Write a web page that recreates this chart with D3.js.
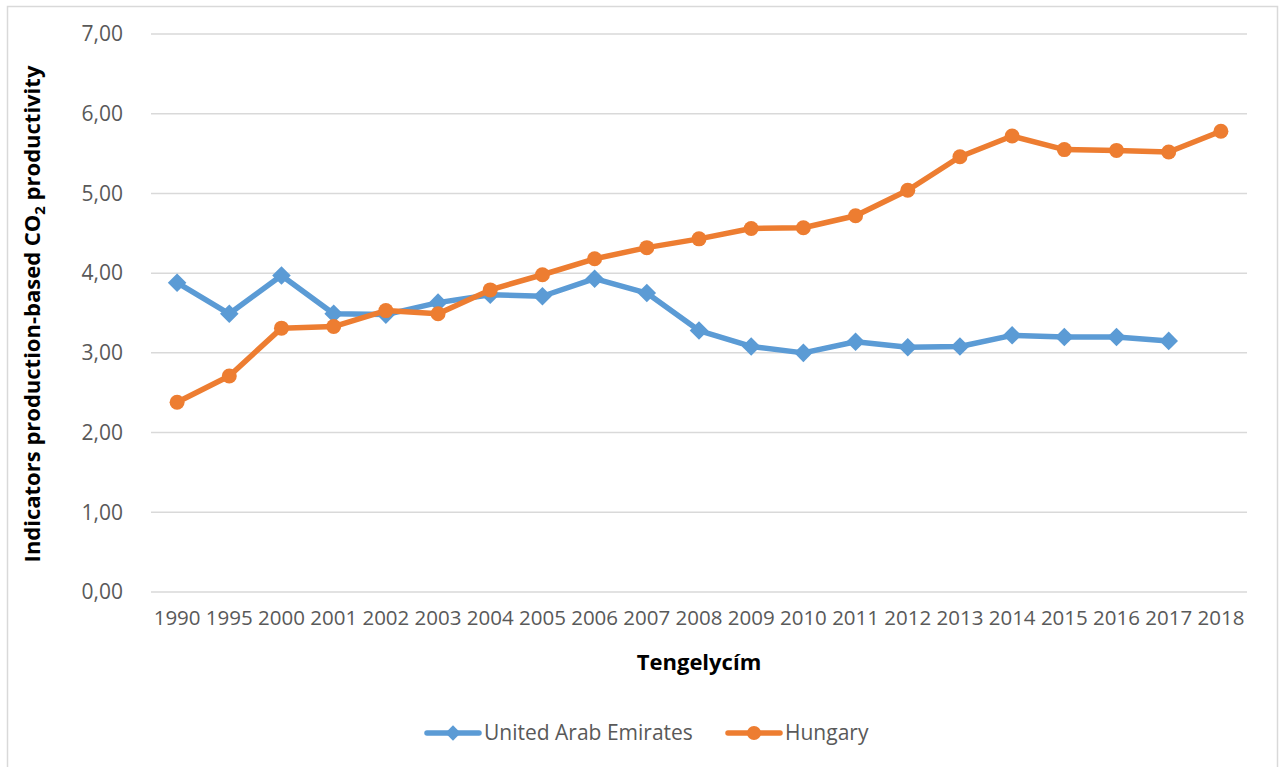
<!DOCTYPE html>
<html>
<head>
<meta charset="utf-8">
<script src="https://cdn.jsdelivr.net/npm/d3@7"></script>
<style>
  body { margin: 0; background: #fff; }
  text { font-family: "Open Sans", sans-serif; }
</style>
</head>
<body>
<div id="chart"></div>
<script>
// data
const years = ["1990", "1995", "2000", "2001", "2002", "2003", "2004", "2005", "2006", "2007",
  "2008", "2009", "2010", "2011", "2012", "2013", "2014", "2015", "2016", "2017", "2018"];
const uae = [3.88, 3.49, 3.97, 3.49, 3.48, 3.63, 3.73, 3.71, 3.93, 3.75,
  3.28, 3.08, 3.00, 3.14, 3.07, 3.08, 3.22, 3.20, 3.20, 3.15, null];
const hungary = [2.38, 2.71, 3.31, 3.33, 3.53, 3.49, 3.79, 3.98, 4.18, 4.32,
  4.43, 4.56, 4.57, 4.72, 5.04, 5.46, 5.72, 5.55, 5.54, 5.52, 5.78];
const yTicks = [0, 1, 2, 3, 4, 5, 6, 7];
const seriesNames = ["United Arab Emirates", "Hungary"];

const W = 1279, H = 767;
const margin = { top: 34, right: 32, bottom: 175, left: 151 };
const width = W - margin.left - margin.right,
  height = H - margin.top - margin.bottom;
const blue = "#5B9BD5", orange = "#ED7D31", grid = "#D9D9D9", txt = "#595959";

const svg = d3.select("#chart").append("svg")
  .attr("width", W)
  .attr("height", H);

// chart frame
svg.append("rect")
  .attr("x", 7.5).attr("y", 6.5)
  .attr("width", 1270).attr("height", 780)
  .attr("fill", "none")
  .attr("stroke", grid)
  .attr("stroke-width", 1.5);

const g = svg.append("g")
  .attr("transform", "translate(" + margin.left + "," + margin.top + ")");

const x = d3.scaleBand().domain(years).range([0, width]);
const y = d3.scaleLinear().domain([0, 7]).range([height, 0]);

// gridlines
g.append("g")
  .selectAll("line")
  .data(yTicks)
  .enter()
  .append("line")
  .attr("x1", 0).attr("x2", width)
  .attr("y1", d => y(d)).attr("y2", d => y(d))
  .attr("stroke", grid)
  .attr("stroke-width", 1.5);

// y axis labels
const yAxis = g.append("g")
  .call(d3.axisLeft(y).tickValues(yTicks).tickSize(0).tickPadding(28)
    .tickFormat(d => d3.format(".2f")(d).replace(".", ",")));
yAxis.select(".domain").remove();
yAxis.selectAll("text")
  .style("font-family", "'Open Sans', sans-serif")
  .style("font-size", "21px")
  .attr("fill", txt);

// x axis labels
const xAxis = g.append("g")
  .attr("transform", "translate(0," + height + ")")
  .call(d3.axisBottom(x).tickSize(0).tickPadding(18));
xAxis.select(".domain").remove();
xAxis.selectAll("text")
  .style("font-family", "'Open Sans', sans-serif")
  .style("font-size", "20.5px")
  .attr("fill", txt);

// axis titles
g.append("text")
  .attr("text-anchor", "middle")
  .attr("x", width / 2)
  .attr("y", height + 78)
  .style("font-size", "22px")
  .style("font-weight", "bold")
  .attr("fill", "#000")
  .text("Tengelycím");

const yt = g.append("text")
  .attr("text-anchor", "middle")
  .attr("transform", "translate(" + (-111) + "," + (height / 2 + 1) + ") rotate(-90)")
  .style("font-size", "22px")
  .style("font-weight", "bold")
  .attr("fill", "#000");
yt.append("tspan").text("Indicators production-based CO");
yt.append("tspan").attr("dy", 5).style("font-size", "15px").text("2");
yt.append("tspan").attr("dy", -5).text(" productivity");

// lines
const line = d3.line()
  .defined(d => d[1] != null)
  .x(d => x(d[0]) + x.bandwidth() / 2)
  .y(d => y(d[1]));

const diamond = d3.symbol().type(d3.symbolDiamond2).size(220);

function drawSeries(values, color, marker) {
  const pts = years.map((yr, i) => [yr, values[i]]);
  g.append("path")
    .datum(pts)
    .attr("fill", "none")
    .attr("stroke", color)
    .attr("stroke-width", 5.5)
    .attr("stroke-linejoin", "round")
    .attr("d", line);
  const m = g.append("g")
    .selectAll("path")
    .data(pts.filter(d => d[1] != null))
    .enter();
  if (marker === "diamond") {
    m.append("path")
      .attr("d", diamond)
      .attr("transform", d => "translate(" + (x(d[0]) + x.bandwidth() / 2) + "," + y(d[1]) + ")")
      .attr("fill", color);
  } else {
    m.append("circle")
      .attr("cx", d => x(d[0]) + x.bandwidth() / 2)
      .attr("cy", d => y(d[1]))
      .attr("r", 7.5)
      .attr("fill", color);
  }
}
drawSeries(uae, blue, "diamond");
drawSeries(hungary, orange, "circle");

// legend
const legend = svg.append("g").attr("transform", "translate(0,733)");
[[seriesNames[0], blue, "diamond", 425], [seriesNames[1], orange, "circle", 726]].forEach(s => {
  const lg = legend.append("g").attr("transform", "translate(" + s[3] + ",0)");
  lg.append("line")
    .attr("x1", 2).attr("x2", 54)
    .attr("stroke", s[1])
    .attr("stroke-width", 5.5)
    .attr("stroke-linecap", "round");
  if (s[2] === "diamond") {
    lg.append("path").attr("d", d3.symbol().type(d3.symbolDiamond2).size(150))
      .attr("transform", "translate(28,0)")
      .attr("fill", s[1]);
  } else {
    lg.append("circle").attr("cx", 28).attr("r", 7).attr("fill", s[1]);
  }
  lg.append("text")
    .attr("x", 59)
    .attr("dy", "0.35em")
    .style("font-size", "21px")
    .attr("fill", txt)
    .text(s[0]);
});
</script>
</body>
</html>
